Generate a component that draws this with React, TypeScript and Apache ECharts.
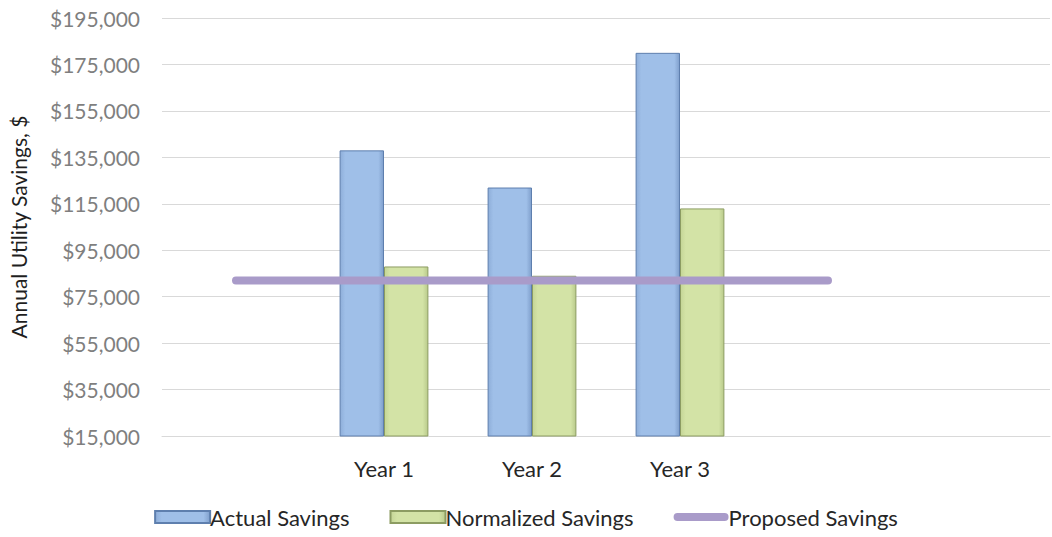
import React, { useEffect, useRef } from "react";
import * as echarts from "echarts";

const categories = ["", "Year 1", "Year 2", "Year 3", "", ""];
const actualSavings = [null, 138000, 122000, 180000, null, null];
const normalizedSavings = [null, 88000, 84000, 113000, null, null];
const proposedSavings = [82000, 82000, 82000, 82000, 82000, null];
const yMin = 15000;
const yMax = 195000;
const yStep = 20000;

const FONT = "Lato, 'Open Sans', sans-serif";

export default function App() {
  const ref = useRef<HTMLDivElement>(null);
  useEffect(() => {
    document.body.style.margin = "0";
    if (!ref.current) return;
    const chart = echarts.init(ref.current, null, { renderer: "svg" });
    chart.setOption({
      animation: false,
      backgroundColor: "#ffffff",
      textStyle: { fontFamily: FONT },
      grid: { left: 155, right: 2, top: 18, bottom: 101, containLabel: false },
      legend: {
        bottom: 4,
        left: "center",
        itemWidth: 55,
        itemHeight: 12,
        itemGap: 40,
        textStyle: { fontFamily: FONT, fontSize: 22, color: "#262626", padding: [0, 0, 0, -5] },
        data: [
          { name: "Actual Savings", icon: "rect" },
          { name: "Normalized Savings", icon: "rect" },
          {
            name: "Proposed Savings",
            icon: "path://M4,0 L51,0 A4,4 0 0 1 51,8 L4,8 A4,4 0 0 1 4,0 Z",
          },
        ],
      },
      xAxis: {
        type: "category",
        data: categories,
        axisTick: { show: false },
        axisLine: { show: true, lineStyle: { color: "#d9d9d9", width: 1 } },
        axisLabel: { color: "#262626", fontSize: 22, fontFamily: FONT, margin: 21 },
      },
      yAxis: {
        type: "value",
        min: yMin,
        max: yMax,
        interval: yStep,
        name: "Annual Utility Savings, $",
        nameLocation: "middle",
        nameGap: 133,
        nameRotate: 90,
        nameTextStyle: { color: "#1f1f1f", fontSize: 21, fontFamily: FONT },
        axisLine: { show: false },
        axisTick: { show: false },
        splitLine: { lineStyle: { color: "#d9d9d9", width: 1 } },
        axisLabel: {
          color: "#7f7f7f",
          fontSize: 21,
          fontFamily: FONT,
          margin: 22,
          formatter: (v: number) => "$" + v.toLocaleString("en-US"),
        },
      },
      series: [
        {
          name: "Actual Savings",
          type: "bar",
          data: actualSavings,
          barGap: "0%",
          barCategoryGap: "40%",
          itemStyle: {
            color: new echarts.graphic.LinearGradient(0, 0, 1, 0, [
              { offset: 0, color: "#8eaed9" },
              { offset: 0.12, color: "#9fbfe8" },
              { offset: 0.88, color: "#9fbfe8" },
              { offset: 1, color: "#7f9fcc" },
            ]),
            borderColor: "#5e7fae",
            borderWidth: 1,
          },
        },
        {
          name: "Normalized Savings",
          type: "bar",
          data: normalizedSavings,
          itemStyle: {
            color: new echarts.graphic.LinearGradient(0, 0, 1, 0, [
              { offset: 0, color: "#c4d596" },
              { offset: 0.12, color: "#d3e3a6" },
              { offset: 0.88, color: "#d3e3a6" },
              { offset: 1, color: "#b9ca8b" },
            ]),
            borderColor: "#8c9c62",
            borderWidth: 1,
          },
        },
        {
          name: "Proposed Savings",
          type: "line",
          data: proposedSavings,
          symbol: "none",
          z: 5,
          itemStyle: { color: "#a99bc9" },
          lineStyle: {
            color: "#a99bc9",
            width: 8,
            cap: "round",
          },
        },
      ],
    });
    return () => chart.dispose();
  }, []);
  return <div ref={ref} style={{ width: 1052, height: 537 }} />;
}
